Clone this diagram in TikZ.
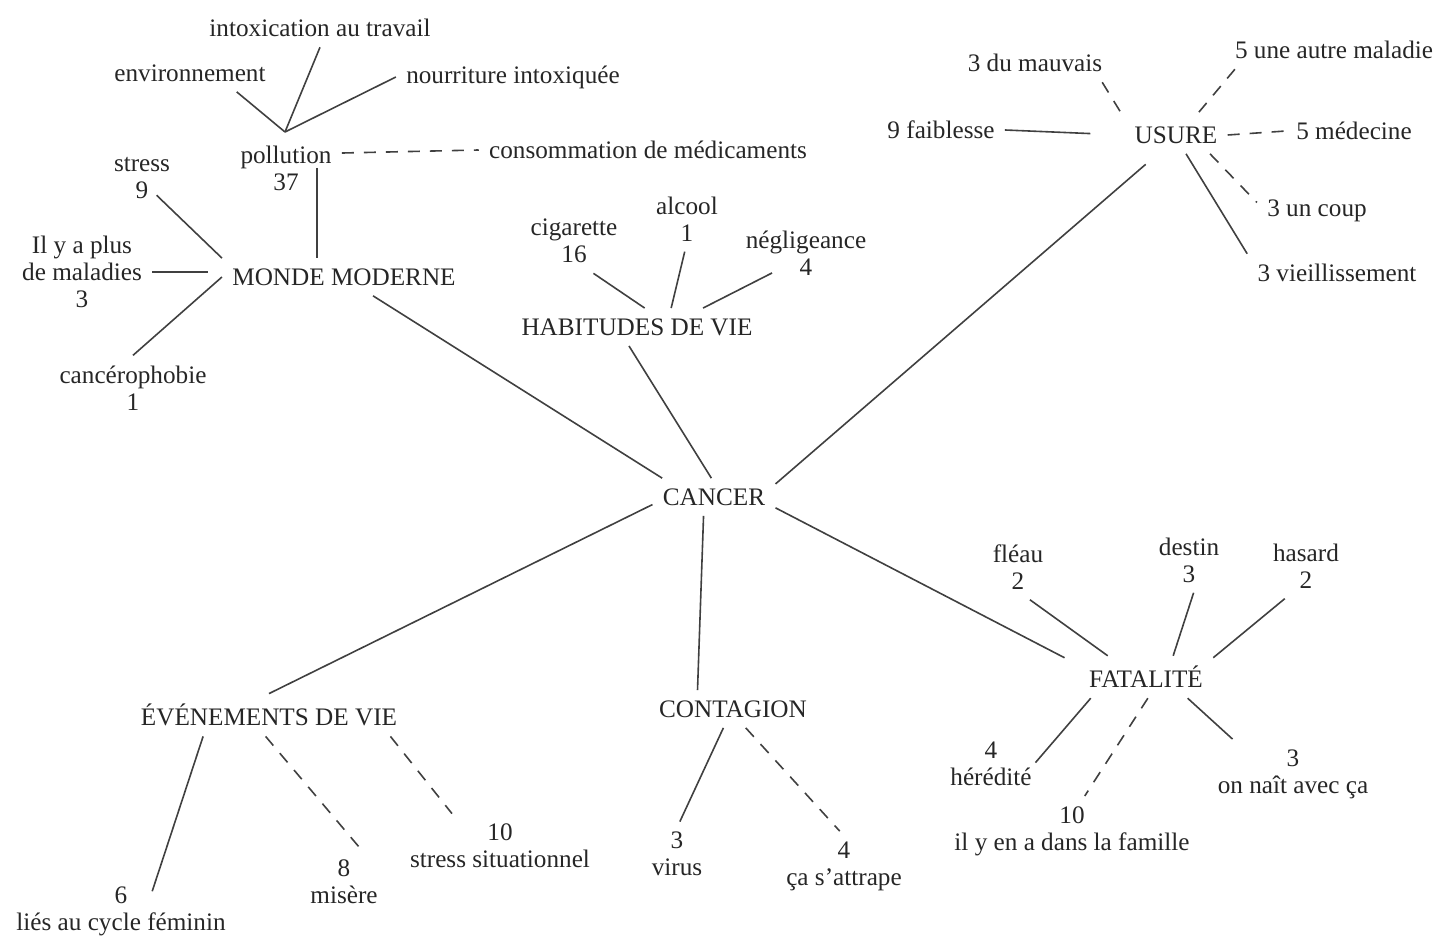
\documentclass[tikz,border=0pt]{standalone}
\usepackage{fontspec}
\setmainfont{Liberation Serif}
\usepackage{tikz}
\tikzset{lbl/.style = {align=center, inner sep=5pt, text=black!85,
                       font=\fontsize{12.6}{13.5}\selectfont}}
\tikzset{link/.style = {draw=black!75, line width=0.8pt}}
\tikzset{dlink/.style = {link, dash pattern=on 6pt off 5pt}}

\begin{document}
\begin{tikzpicture}[x=0.5pt, y=-0.5pt]
  \useasboundingbox (0, 0) rectangle (1439, 940);

  \node [lbl] (intox) at (320, 28) {intoxication au travail};
  \node [lbl] (env) at (190, 73) {environnement};
  \node [lbl] (nourr) at (513, 77) {nourriture intoxiquée};
  \node [lbl] (pollution) at (286, 168) {pollution\\37};
  \node [lbl] (conso) at (648, 150) {consommation de médicaments};
  \node [lbl] (stress) at (142, 178) {stress\\9};
  \node [lbl] (plus) at (82, 272) {Il y a plus\\de maladies\\3};
  \node [lbl] (monde) at (344, 277) {MONDE MODERNE};
  \node [lbl] (phobie) at (133, 388) {cancérophobie\\1};

  \node [lbl] (cig) at (574, 241) {cigarette\\16};
  \node [lbl] (alcool) at (687, 219) {alcool\\1};
  \node [lbl] (neglig) at (806, 253) {négligeance\\4};
  \node [lbl] (habitudes) at (637, 327) {HABITUDES DE VIE};

  \node [lbl] (cancer) at (714, 497) {CANCER};

  \node [lbl] (usure) at (1176, 135) {USURE};
  \node [lbl] (mauvais) at (1035, 63) {3 du mauvais};
  \node [lbl] (autre) at (1334, 50) {5 une autre maladie};
  \node [lbl] (faiblesse) at (941, 130) {9 faiblesse};
  \node [lbl] (medecine) at (1354, 131) {5 médecine};
  \node [lbl] (coup) at (1317, 211) {3 un coup};
  \node [lbl] (vieil) at (1337, 273) {3 vieillissement};

  \node [lbl] (fatalite) at (1146, 677) {FATALITÉ};
  \node [lbl] (fleau) at (1018, 567) {fléau\\2};
  \node [lbl] (destin) at (1189, 560) {destin\\3};
  \node [lbl] (hasard) at (1306, 566) {hasard\\2};
  \node [lbl] (heredite) at (991, 764) {4\\hérédité};
  \node [lbl] (famille) at (1072, 831) {10\\il y en a dans la famille};
  \node [lbl] (naitavec) at (1293, 774) {3\\on naît avec ça};

  \node [lbl] (evenements) at (269, 715) {ÉVÉNEMENTS DE VIE};
  \node [lbl] (cycle) at (121, 911) {6\\liés au cycle féminin};
  \node [lbl] (misere) at (344, 882) {8\\misère};
  \node [lbl] (stresssit) at (500, 846) {10\\stress situationnel};

  \node [lbl] (contagion) at (733, 709) {CONTAGION};
  \node [lbl] (virus) at (677, 854) {3\\virus};
  \node [lbl] (attrape) at (844, 866) {4\\ça s'attrape};

  \coordinate (pj) at (285, 132);
  \coordinate (pv) at ([xshift=-12.5pt]pollution.east);

  \draw [link] (env.-22) -- (pj);
  \draw [link] (intox.south) -- (pj);
  \draw [link] (nourr.west) -- (pj);
  \draw [dlink] (pollution.15) -- (conso.west);
  \draw [link] (pv) -- (pv |- monde.north);
  \draw [link, shorten <=-10pt] (stress.-47) -- (monde.north west);
  \draw [link, shorten >=7pt] (plus.east) -- (plus.east -| monde.west);
  \draw [link] (phobie.north) -- (monde.west);
  \draw [link] (monde.-33) -- (cancer.160);

  \draw [link] (cig.-59) -- (habitudes.68);
  \draw [link] (alcool.-94) -- (habitudes.29);
  \draw [link, shorten <=-14pt] (neglig.-151) -- (habitudes.16);
  \draw [link] (habitudes.-113) -- (cancer.98);

  \draw [link, shorten >=8pt] (cancer.12) -- (usure.-134);
  \draw [dlink] (mauvais.-16) -- (usure.162);
  \draw [dlink] (autre.-169) -- (usure.44);
  \draw [link, shorten >=17pt] (faiblesse.east) -- (usure.west);
  \draw [dlink] (usure.east) -- (medecine.west);
  \draw [dlink] (usure.-29) -- (coup.172);
  \draw [link] (usure.-62) -- (vieil.north west);

  \draw [link, shorten >=8pt] (cancer.-10) -- (fatalite.170);
  \draw [link] (fleau.-70) -- (fatalite.151);
  \draw [link] (destin.-82) -- (fatalite.38);
  \draw [link] (hasard.-123) -- (fatalite.16);
  \draw [link, shorten >=-5pt] (fatalite.-159) -- (heredite.10);
  \draw [dlink] (fatalite.-85) -- (famille.70);
  \draw [link] (fatalite.-27) -- (naitavec.150);

  \draw [link] (cancer.-173) -- (evenements.north);
  \draw [link, shorten >=-8pt] (evenements.-162) -- (cycle.44);
  \draw [dlink] (evenements.-99) -- (misere.62);
  \draw [dlink] (evenements.-10) -- (stresssit.146);

  \draw [link] (cancer.-119) -- (contagion.152);
  \draw [link] (contagion.-117) -- (virus.85);
  \draw [dlink] (contagion.-56) -- (attrape.97);
\end{tikzpicture}
\end{document}
